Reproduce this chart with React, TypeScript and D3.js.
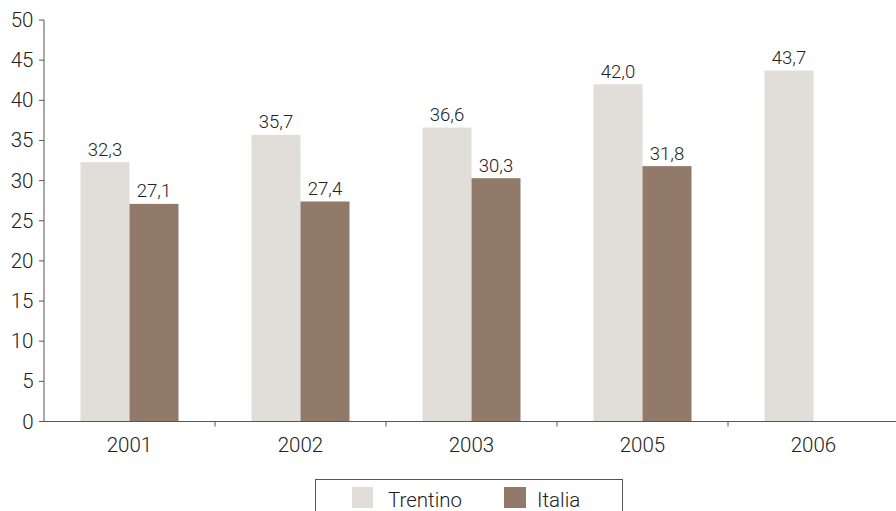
import React from "react";
import * as d3 from "d3";

const categories = ["2001", "2002", "2003", "2005", "2006"];
const trentino = [32.3, 35.7, 36.6, 42.0, 43.7];
const italia: (number | null)[] = [27.1, 27.4, 30.3, 31.8, null];
const seriesNames = ["Trentino", "Italia"];
const yTicks = [0, 5, 10, 15, 20, 25, 30, 35, 40, 45, 50];

const W = 896;
const H = 511;
const colors = ["#e1ddd9", "#917a69"];
const font = "Roboto, 'Liberation Sans', Arial, sans-serif";
const textColor = "#222";

export default function App() {
  const left = 44;
  const x = d3.scaleBand<string>().domain(categories).range([left, left + 171 * 5]);
  const y = d3.scaleLinear().domain([0, 50]).range([421.5, 20]);
  const barW = 49;
  const fmt = (v: number) => v.toFixed(1).replace(".", ",");

  return (
    <svg width={W} height={H} style={{ position: "absolute", left: 0, top: 0, background: "#fff" }}
      fontFamily={font} fontWeight={300}>
      {categories.map((c, i) => {
        const cx = x(c)! + x.bandwidth() / 2;
        const vals = [trentino[i], italia[i]];
        return (
          <g key={c}>
            {vals.map((v, s) =>
              v == null ? null : (
                <g key={s}>
                  <rect x={cx - barW + s * barW} y={y(v)} width={barW} height={y(0) - y(v)} fill={colors[s]} />
                  <text x={cx - barW / 2 + s * barW} y={y(v) - 6.5} textAnchor="middle" fontSize={18.5} fill={textColor}>
                    {fmt(v)}
                  </text>
                </g>
              )
            )}
          </g>
        );
      })}
      <line x1={left} x2={left} y1={y(50)} y2={y(0)} stroke="#555" strokeWidth={1} />
      {yTicks.map((t) => (
        <g key={t}>
          <line x1={left - 5} x2={left} y1={y(t)} y2={y(t)} stroke="#555" />
          <text x={33.5} y={y(t) + 7} textAnchor="end" fontSize={20.5} fill={textColor}>
            {t}
          </text>
        </g>
      ))}
      <line x1={left} x2={W} y1={y(0)} y2={y(0)} stroke="#555" strokeWidth={1} />
      {categories.map((c, i) => (
        <g key={c}>
          {i > 0 && <line x1={x(c)!} x2={x(c)!} y1={y(0)} y2={y(0) + 5} stroke="#555" />}
          <text x={x(c)! + x.bandwidth() / 2} y={452} textAnchor="middle" fontSize={20.5} fill={textColor}>
            {c}
          </text>
        </g>
      ))}
      <rect x={315.5} y={479.5} width={307} height={40} fill="none" stroke="#555" strokeWidth={1} />
      <rect x={352} y={487} width={21} height={21} fill={colors[0]} />
      <text x={388} y={507} fontSize={20.5} fill={textColor}>{seriesNames[0]}</text>
      <rect x={504} y={487} width={22} height={21} fill={colors[1]} />
      <text x={537} y={507} fontSize={20.5} fill={textColor}>{seriesNames[1]}</text>
    </svg>
  );
}
